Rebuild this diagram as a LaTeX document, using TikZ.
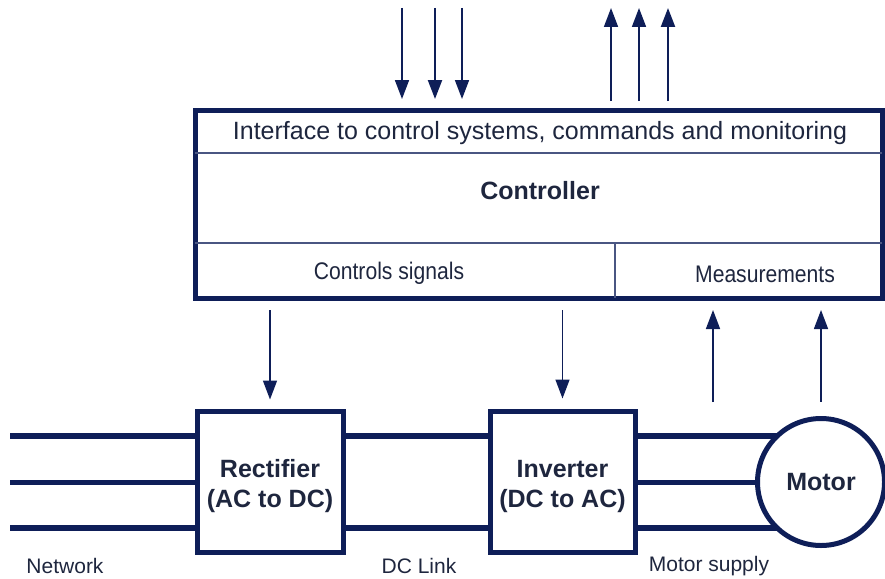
\documentclass[tikz,border=0pt]{standalone}
\usepackage{fontspec}
\setmainfont{Liberation Sans}
\usetikzlibrary{arrows.meta}
\definecolor{navy}{RGB}{14,30,88}
\definecolor{txt}{RGB}{30,38,62}
\begin{document}
\begin{tikzpicture}[x=1pt,y=-1pt,
  thick box/.style={draw=navy,line width=5pt,inner sep=0pt,outer sep=0pt,fill=none},
  power/.style={draw=navy,line width=6pt},
  divider/.style={draw=navy!75,line width=1.4pt},
  arr/.style={draw=navy,line width=1.7pt,-{Triangle[length=19pt,width=14pt]}},
  bigbold/.style={font=\fontsize{25}{30}\selectfont\bfseries,text=txt,align=center},
  mid/.style={font=\fontsize{25}{30}\selectfont,text=txt},
  small/.style={font=\fontsize{21}{25}\selectfont,text=txt}]
\useasboundingbox (0,0) rectangle (885,578);

% controller block
\node[thick box,minimum width=687pt,minimum height=188pt] (ctrl) at (538.5,204) {};
\coordinate (l1) at (0,153);
\coordinate (l2) at (0,243);
\coordinate (dv) at (615,243);
\draw[divider] (ctrl.west |- l1) -- (ctrl.east |- l1);
\draw[divider] (ctrl.west |- l2) -- (ctrl.east |- l2);
\draw[divider] (dv) -- (dv |- ctrl.south);
\node[mid] (iface) at (540,133) {Interface to control systems, commands and monitoring};
\node[bigbold] (ctrltxt) at (540,191) {Controller};
\node[small] (csig) at (389,273) {\scalebox{0.88}[1]{\fontsize{24}{28}\selectfont Controls signals}};
\node[small] (meas) at (765,274) {\scalebox{0.88}[1]{\fontsize{24}{28}\selectfont Measurements}};

% external command / monitoring arrows
\coordinate (in1) at (402,8);
\coordinate (in2) at (435,8);
\coordinate (in3) at (462,8);
\coordinate (out1) at (611,8);
\coordinate (out2) at (639,8);
\coordinate (out3) at (668,8);
\draw[arr] (in1) -- ([yshift=11pt]in1 |- ctrl.north);
\draw[arr,line width=2.2pt] (in2) -- ([yshift=11pt]in2 |- ctrl.north);
\draw[arr] (in3) -- ([yshift=11pt]in3 |- ctrl.north);
\draw[arr] ([yshift=9pt]out1 |- ctrl.north) -- (out1);
\draw[arr] ([yshift=9pt]out2 |- ctrl.north) -- (out2);
\draw[arr,line width=2.2pt] ([yshift=9pt]out3 |- ctrl.north) -- (out3);

% power chain
\node[thick box,minimum width=146pt,minimum height=141pt] (rect) at (270,482) {};
\node[thick box,minimum width=145pt,minimum height=141pt] (inv) at (562.5,482) {};
\node[thick box,circle,minimum size=127pt,bigbold] (motor) at (821,482) {Motor};
\node[bigbold] (recttxt) at ([yshift=-4pt]rect.center) {Rectifier\\(AC to DC)};
\node[bigbold] (invtxt) at ([yshift=-4pt]inv.center) {Inverter\\(DC to AC)};

\coordinate (nw1) at (10,436);
\coordinate (nw2) at (10,482);
\coordinate (nw3) at (10,528);
\draw[power] (nw1) -- (nw1 -| rect.west);
\draw[power,line width=5pt] (nw2) -- (nw2 -| rect.west);
\draw[power] (nw3) -- (nw3 -| rect.west);
\draw[power] (rect.east |- nw1) -- (inv.west |- nw1);
\draw[power] (rect.east |- nw3) -- (inv.west |- nw3);
\draw[power] (inv.east |- motor.133.4) -- (motor.133.4);
\draw[power,line width=5pt] (inv.east) -- (motor.west);
\draw[power] (inv.east |- motor.226.6) -- (motor.226.6);

% control signals and measurements
\coordinate (ms1) at (713,402);
\draw[arr,line width=1.5pt] ([yshift=-12pt]ctrl.south -| rect.north) -- ([yshift=12pt]rect.north);
\draw[arr,line width=1.5pt] ([yshift=-12pt]ctrl.south -| inv.north) -- ([yshift=13pt]inv.north);
\draw[arr,line width=1.5pt] (ms1) -- ([yshift=-12pt]ms1 |- ctrl.south);
\draw[arr,line width=1.5pt] ([yshift=17pt]motor.north) -- ([yshift=-12pt]motor.north |- ctrl.south);

% labels
\node[small] (lnet) at (65,566) {Network};
\node[small] (ldc) at (419,566) {DC Link};
\node[small] (lms) at (709,566) {Motor supply};
\end{tikzpicture}
\end{document}
